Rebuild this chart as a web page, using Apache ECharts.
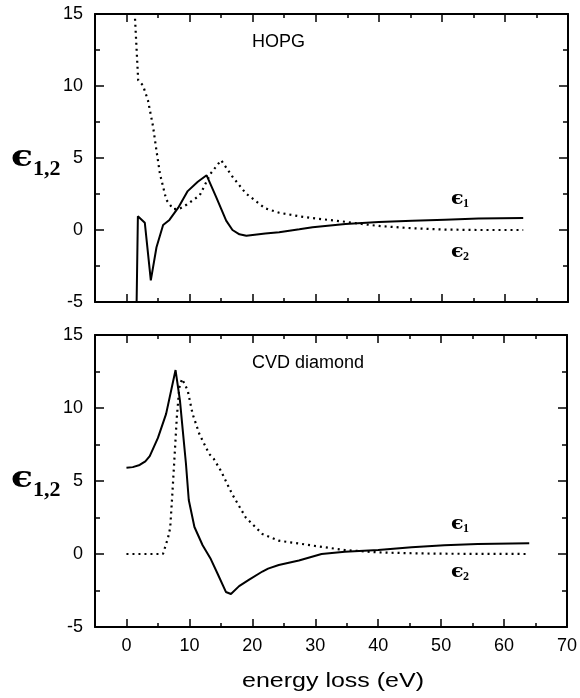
<!DOCTYPE html>
<html>
<head>
<meta charset="utf-8">
<script src="https://cdn.jsdelivr.net/npm/echarts@6/dist/echarts.min.js"></script>
<style>
  html, body { margin: 0; padding: 0; background: #fff; }
  #chart { width: 580px; height: 698px; }
</style>
</head>
<body>
<div id="chart"></div>
<script>
// ---- Data ----
// HOPG
var hopgE1X = [1.6, 1.8, 2.9, 3.85, 4.75, 5.8, 6.8, 8.2, 9.7, 11.3, 12.7, 14.2, 15.8, 16.8, 17.9, 19, 22, 24.2, 27.4, 29.5, 34.7, 40, 45.3, 50.5, 55.8, 62.9];
var hopgE1Y = [-5, 0.95, 0.5, -3.5, -1.2, 0.35, 0.7, 1.55, 2.7, 3.35, 3.8, 2.3, 0.65, 0.0, -0.3, -0.4, -0.25, -0.15, 0.05, 0.19, 0.42, 0.56, 0.65, 0.72, 0.79, 0.83];
var hopgE2X = [1.25, 1.6, 1.85, 2.6, 3.4, 4.2, 4.75, 5.3, 6.3, 7.4, 8.5, 9.5, 11.6, 13.3, 15, 16.8, 18.9, 22, 24.2, 27.4, 30, 34.7, 37.3, 40, 45.3, 50.5, 55.8, 62.9];
var hopgE2Y = [15.5, 12.5, 10.4, 10.05, 9.0, 7.2, 5.5, 3.9, 2.1, 1.45, 1.5, 1.75, 2.4, 3.9, 4.85, 3.7, 2.55, 1.5, 1.2, 0.95, 0.8, 0.57, 0.42, 0.28, 0.12, 0.03, 0, 0];
// CVD diamond
var cvdE1X = [0, 1, 2.1, 3, 3.7, 5, 6.3, 7.8, 8.5, 8.95, 9.45, 9.9, 10.8, 12.1, 13.4, 14.5, 15.8, 16.6, 17.9, 19.5, 21.6, 22.5, 24.2, 27.4, 31, 34.7, 40, 45.3, 50.5, 55.8, 64];
var cvdE1Y = [5.9, 5.95, 6.1, 6.35, 6.7, 7.95, 9.6, 12.6, 10.5, 8.45, 6.2, 3.7, 1.85, 0.6, -0.35, -1.37, -2.6, -2.74, -2.2, -1.75, -1.2, -1.0, -0.75, -0.45, 0, 0.16, 0.27, 0.46, 0.6, 0.68, 0.73];
var cvdE2X = [0, 5.8, 6.05, 6.6, 6.95, 7.26, 7.63, 8.0, 8.4, 8.84, 9.73, 10.5, 11.6, 13.15, 13.9, 15, 16.8, 18.95, 21.6, 24.2, 27.4, 29.5, 34.7, 40, 45.3, 50, 64];
var cvdE2Y = [0, 0, 0.1, 1.1, 1.8, 3.9, 6.6, 9.35, 11.4, 12.0, 11.2, 9.6, 8.2, 6.85, 6.5, 5.7, 4.1, 2.5, 1.37, 0.91, 0.72, 0.58, 0.27, 0.11, 0.05, 0.02, 0];
// Ticks
var xMajorTicks = [0, 10, 20, 30, 40, 50, 60, 70];
var xMinorTicks = [5, 15, 25, 35, 45, 55, 65];
var panelTitles = ['HOPG', 'CVD diamond'];

function zip(xs, ys) { return xs.map(function (x, i) { return [x, ys[i]]; }); }

var chart = echarts.init(document.getElementById('chart'), null, { renderer: 'canvas' });
var black = '#000';
var tickFont = { fontFamily: '"Liberation Sans", Arial, sans-serif', fontSize: 18, color: black };

var grids = [
  { left: 95, top: 14, width: 473, height: 288 },
  { left: 95, top: 335, width: 474, height: 292 }
];

var xAxes = [], yAxes = [];
grids.forEach(function (g, gi) {
  ['bottom', 'top'].forEach(function (pos) {
    xAxes.push({
      type: 'value', gridIndex: gi, position: pos, min: -5, max: 70,
      axisLine: { show: true, onZero: false, lineStyle: { color: black, width: 2 } },
      axisTick: { show: true, inside: true, length: 8, customValues: xMajorTicks, lineStyle: { color: black, width: 1.5 } },
      axisLabel: (pos === 'bottom' && gi === 1) ?
        Object.assign({ show: true, margin: 10, customValues: xMajorTicks }, tickFont) : { show: false },
      splitLine: { show: false }
    });
    xAxes.push({
      type: 'value', gridIndex: gi, position: pos, min: -5, max: 70,
      axisLine: { show: false, onZero: false },
      axisTick: { show: true, inside: true, length: 4, customValues: xMinorTicks, lineStyle: { color: black, width: 1.5 } },
      axisLabel: { show: false },
      splitLine: { show: false }
    });
  });
  ['left', 'right'].forEach(function (pos) {
    yAxes.push({
      type: 'value', gridIndex: gi, position: pos, min: -5, max: 15, interval: 5,
      axisLine: { show: true, onZero: false, lineStyle: { color: black, width: 2 } },
      axisTick: { show: true, inside: true, length: 9, lineStyle: { color: black, width: 1.5 } },
      minorTick: { show: true, splitNumber: 2, length: 5, lineStyle: { color: black, width: 1.5 } },
      axisLabel: pos === 'left' ? Object.assign({ show: true, margin: 12 }, tickFont) : { show: false },
      splitLine: { show: false }
    });
  });
});

function lineSeries(gi, data, dotted) {
  return {
    type: 'line', xAxisIndex: gi * 4, yAxisIndex: gi * 2, data: data,
    showSymbol: false, symbol: 'none', smooth: false, clip: true,
    lineStyle: dotted ? { color: black, width: 2.2, type: [2, 4] } : { color: black, width: 2 },
    z: 3
  };
}

var series = [
  lineSeries(0, zip(hopgE1X, hopgE1Y), false),
  lineSeries(0, zip(hopgE2X, hopgE2Y), true),
  lineSeries(1, zip(cvdE1X, cvdE1Y), false),
  lineSeries(1, zip(cvdE2X, cvdE2Y), true)
];

function txt(x, y, text, font, opts) {
  opts = opts || {};
  return {
    type: 'text', x: x, y: y, scaleX: opts.scaleX || 1, z: 10,
    style: {
      text: text, font: font, fill: black,
      align: opts.align || 'left', verticalAlign: 'middle',
      textAlign: opts.align || 'left', textVerticalAlign: 'middle'
    }
  };
}

var epsBig = 'bold 30px "DejaVu Serif", serif';
var subBig = 'bold 22px "Liberation Serif", "Times New Roman", serif';
var epsSmall = 'bold 18px "DejaVu Serif", serif';
var subSmall = 'bold 12px "Liberation Serif", "Times New Roman", serif';
var annFont = '18px "Liberation Sans", Arial, sans-serif';

var graphic = [];
[0, 321].forEach(function (dy, gi) {
  // y-axis label
  graphic.push(txt(11, 158 + dy, '\u03F5', epsBig, { scaleX: 1.2 }));
  graphic.push(txt(33, 169 + dy, '1,2', subBig));
  // panel title
  graphic.push(txt(252, 42 + dy, panelTitles[gi], annFont));
});
// curve labels
[[199, 252], [524, 572]].forEach(function (ys) {
  graphic.push(txt(451, ys[0], '\u03F5', epsSmall, { scaleX: 1.15 }));
  graphic.push(txt(463, ys[0] + 5, '1', subSmall));
  graphic.push(txt(451, ys[1], '\u03F5', epsSmall, { scaleX: 1.15 }));
  graphic.push(txt(463, ys[1] + 5, '2', subSmall));
});
graphic.push(txt(333, 681, 'energy loss (eV)', '20px "Liberation Sans", Arial, sans-serif', { align: 'center', scaleX: 1.25 }));

chart.setOption({
  animation: false,
  backgroundColor: '#fff',
  grid: grids,
  xAxis: xAxes,
  yAxis: yAxes,
  series: series,
  graphic: graphic
});
</script>
</body>
</html>
